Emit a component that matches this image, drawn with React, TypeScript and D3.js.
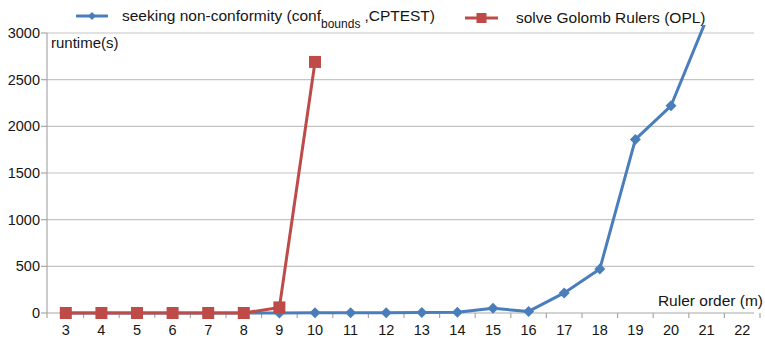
import * as d3 from 'd3';

// ruler order m
const categories = ['3', '4', '5', '6', '7', '8', '9', '10', '11', '12', '13', '14', '15', '16', '17', '18', '19', '20', '21', '22'];

// seeking non-conformity (conf_bounds, CPTEST), runtime in seconds
const cptestRuntime: (number | null)[] = [0, 0, 0, 0, 0, 0, 1, 2, 3, 3, 5, 8, 50, 17, 215, 471, 1860, 2220, 3150, null];

// solve Golomb Rulers (OPL)
const oplRuntime: (number | null)[] = [0, 0, 0, 0, 0, 0, 60, 2690, null, null, null, null, null, null, null, null, null, null, null, null];

const yTicks = [0, 500, 1000, 1500, 2000, 2500, 3000];

const BLUE = '#4a7ebb';
const RED = '#be4b48';
const FONT = '"Liberation Sans", Arial, sans-serif';
const INK = '#151515';

const width = 765;
const height = 343;
const axisX = 47;
const gridRight = 754;

export default function App() {
  const x = d3.scaleBand().domain(categories).range([48, 760]).padding(0);
  const y = d3.scaleLinear().domain([0, 3000]).range([313, 33]);
  const cx = (c: string) => (x(c) as number) + x.bandwidth() / 2;

  const pts = (vals: (number | null)[]) =>
    categories
      .map((c, i) => ({ c, v: vals[i] }))
      .filter((d) => d.v !== null) as { c: string; v: number }[];

  const line = d3
    .line<{ c: string; v: number }>()
    .x((d) => cx(d.c))
    .y((d) => y(d.v));

  const blue = pts(cptestRuntime);
  const red = pts(oplRuntime);

  const diamond = (px: number, py: number, r: number) =>
    `M${px},${py - r}L${px + r},${py}L${px},${py + r}L${px - r},${py}Z`;

  return (
    <svg
      width={width}
      height={height}
      style={{ position: 'absolute', left: 0, top: 0, background: '#fff' }}
      fontFamily={FONT}
    >
      <defs>
        <clipPath id="plot">
          <rect x={axisX} y={25} width={gridRight - axisX + 4} height={300} />
        </clipPath>
      </defs>

      {/* gridlines */}
      {yTicks.map((t) => (
        <line key={t} x1={axisX} x2={gridRight} y1={y(t)} y2={y(t)} stroke={t === 0 ? '#a8a8a8' : '#c4c4c4'} strokeWidth={1.2} />
      ))}

      {/* y axis */}
      <line x1={axisX} x2={axisX} y1={y(3000)} y2={y(0) + 5} stroke="#a8a8a8" strokeWidth={1.2} />
      {yTicks.map((t) => (
        <g key={t}>
          <line x1={axisX - 6} x2={axisX} y1={y(t)} y2={y(t)} stroke="#a8a8a8" strokeWidth={1.2} />
          <text x={axisX - 7} y={y(t) + 5} textAnchor="end" fontSize={14.5} fill={INK}>
            {t}
          </text>
        </g>
      ))}

      {/* x ticks and labels */}
      {categories.map((c) => (
        <g key={c}>
          <line x1={(x(c) as number) + x.bandwidth()} x2={(x(c) as number) + x.bandwidth()} y1={y(0)} y2={y(0) + 5} stroke="#a8a8a8" strokeWidth={1.2} />
          <text x={cx(c)} y={335} textAnchor="middle" fontSize={14.5} fill={INK}>
            {c}
          </text>
        </g>
      ))}

      <text x={51} y={48} fontSize={15} fill={INK}>
        runtime(s)
      </text>
      <text x={763} y={306} textAnchor="end" fontSize={15.5} fill={INK}>
        Ruler order (m)
      </text>

      {/* series */}
      <g clipPath="url(#plot)">
        <path d={line(blue) ?? ''} fill="none" stroke={BLUE} strokeWidth={3} strokeLinejoin="round" />
        {blue.map((d) => (
          <path key={d.c} d={diamond(cx(d.c), y(d.v), 5.5)} fill={BLUE} />
        ))}
        <path d={line(red) ?? ''} fill="none" stroke={RED} strokeWidth={3} strokeLinejoin="round" />
        {red.map((d) => (
          <rect key={d.c} x={cx(d.c) - 6} y={y(d.v) - 6} width={12} height={12} fill={RED} />
        ))}
      </g>

      {/* legend */}
      <line x1={76} x2={108} y1={16} y2={16} stroke={BLUE} strokeWidth={3} />
      <path d={diamond(92, 16, 4)} fill={BLUE} />
      <text x={122} y={21} fontSize={15.5} fill={INK}>
        seeking non-conformity (conf
        <tspan dy={7} fontSize={12}>bounds</tspan>
        <tspan dx={4} dy={-7}>,CPTEST)</tspan>
      </text>

      <line x1={465} x2={498} y1={18} y2={18} stroke={RED} strokeWidth={3} />
      <rect x={476.5} y={13} width={10} height={10} fill={RED} />
      <text x={516} y={23} fontSize={15.5} fill={INK}>
        solve Golomb Rulers (OPL)
      </text>
    </svg>
  );
}
